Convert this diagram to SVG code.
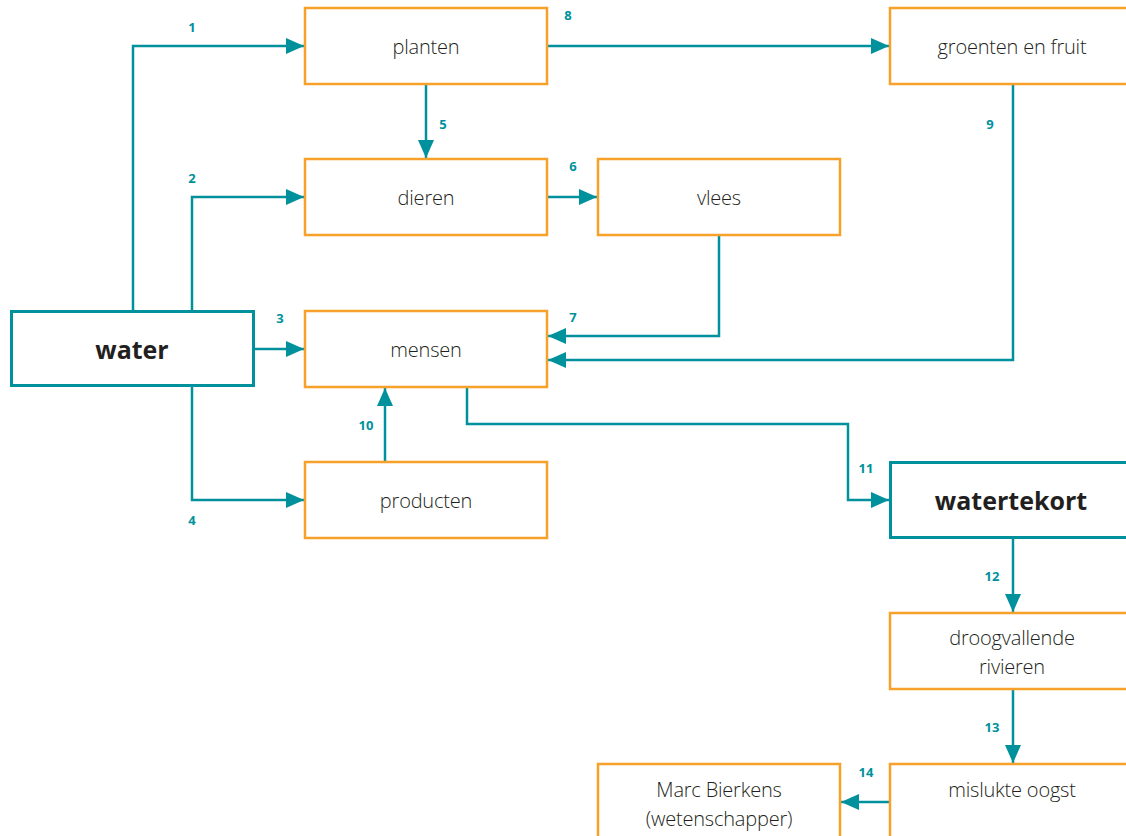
<svg xmlns="http://www.w3.org/2000/svg" width="1126" height="836" viewBox="0 0 1126 836">
<style>
.o{fill:#fff;stroke:#F7A12A;stroke-width:2.5}
.w{fill:#fff;stroke:#00919C;stroke-width:3}
.t{font-family:"Open Sans","Noto Sans",sans-serif;font-size:20px;fill:#231F20;text-anchor:middle;font-weight:300;letter-spacing:-0.2px}
.b{font-family:"Open Sans","Noto Sans",sans-serif;font-size:25px;fill:#231F20;text-anchor:middle;font-weight:700}
.n{font-family:"Open Sans","Noto Sans",sans-serif;font-size:13px;fill:#00919C;text-anchor:middle;font-weight:700}
.c{fill:none;stroke:#00919C;stroke-width:2.5;marker-end:url(#a)}
</style>
<defs>
<marker id="a" markerUnits="userSpaceOnUse" markerWidth="20" markerHeight="16" refX="18" refY="8" orient="auto">
<path d="M0,0 L18,8 L0,16 Z" fill="#00919C"/>
</marker>
</defs>
<rect width="1126" height="836" fill="#fff"/>
<g id="connectors">
<path class="c" d="M133,311 V46 H304"/>
<path class="c" d="M192,311 V197 H304"/>
<path class="c" d="M254,349 H304"/>
<path class="c" d="M192,386 V500 H304"/>
<path class="c" d="M426,84 V158"/>
<path class="c" d="M547,197 H597"/>
<path class="c" d="M719,235 V336 H548"/>
<path class="c" d="M547,46 H889"/>
<path class="c" d="M1013,84 V360 H548"/>
<path class="c" d="M385,462 V388"/>
<path class="c" d="M467,387 V424 H848 V500 H889"/>
<path class="c" d="M1013,538 V612"/>
<path class="c" d="M1013,689 V763"/>
<path class="c" d="M890,802 H841"/>
<text class="n" x="192" y="32">1</text>
<text class="n" x="192" y="183">2</text>
<text class="n" x="280" y="323">3</text>
<text class="n" x="192" y="525">4</text>
<text class="n" x="443" y="129">5</text>
<text class="n" x="573" y="171">6</text>
<text class="n" x="573" y="322">7</text>
<text class="n" x="568" y="20">8</text>
<text class="n" x="990" y="129">9</text>
<text class="n" x="366" y="430">10</text>
<text class="n" x="866" y="473">11</text>
<text class="n" x="992" y="581">12</text>
<text class="n" x="992" y="732">13</text>
<text class="n" x="866" y="777">14</text>
</g>
<g id="water"><rect class="w" x="11.5" y="311.5" width="242" height="74"/><text class="b" x="132" y="359">water</text></g>
<g id="planten"><rect class="o" x="305" y="8" width="242" height="76"/><text class="t" x="426" y="54">planten</text></g>
<g id="dieren"><rect class="o" x="305" y="159" width="242" height="76"/><text class="t" x="426" y="205">dieren</text></g>
<g id="vlees"><rect class="o" x="598" y="159" width="242" height="76"/><text class="t" x="719" y="205">vlees</text></g>
<g id="mensen"><rect class="o" x="305" y="311" width="242" height="76"/><text class="t" x="426" y="357">mensen</text></g>
<g id="producten"><rect class="o" x="305" y="462" width="242" height="76"/><text class="t" x="426" y="508">producten</text></g>
<g id="groenten"><rect class="o" x="890" y="8" width="250" height="76"/><text class="t" x="1012" y="54">groenten en fruit</text></g>
<g id="watertekort"><rect class="w" x="890.5" y="462.5" width="250" height="75"/><text class="b" x="1011" y="510">watertekort</text></g>
<g id="droogvallende"><rect class="o" x="890" y="613" width="250" height="76"/><text class="t" x="1012" y="645">droogvallende</text><text class="t" x="1012" y="674">rivieren</text></g>
<g id="mislukte"><rect class="o" x="890" y="764" width="250" height="90"/><text class="t" x="1012" y="797">mislukte oogst</text></g>
<g id="marc"><rect class="o" x="598" y="764" width="242" height="90"/><text class="t" x="719" y="797">Marc Bierkens</text><text class="t" x="719" y="826">(wetenschapper)</text></g>
</svg>
